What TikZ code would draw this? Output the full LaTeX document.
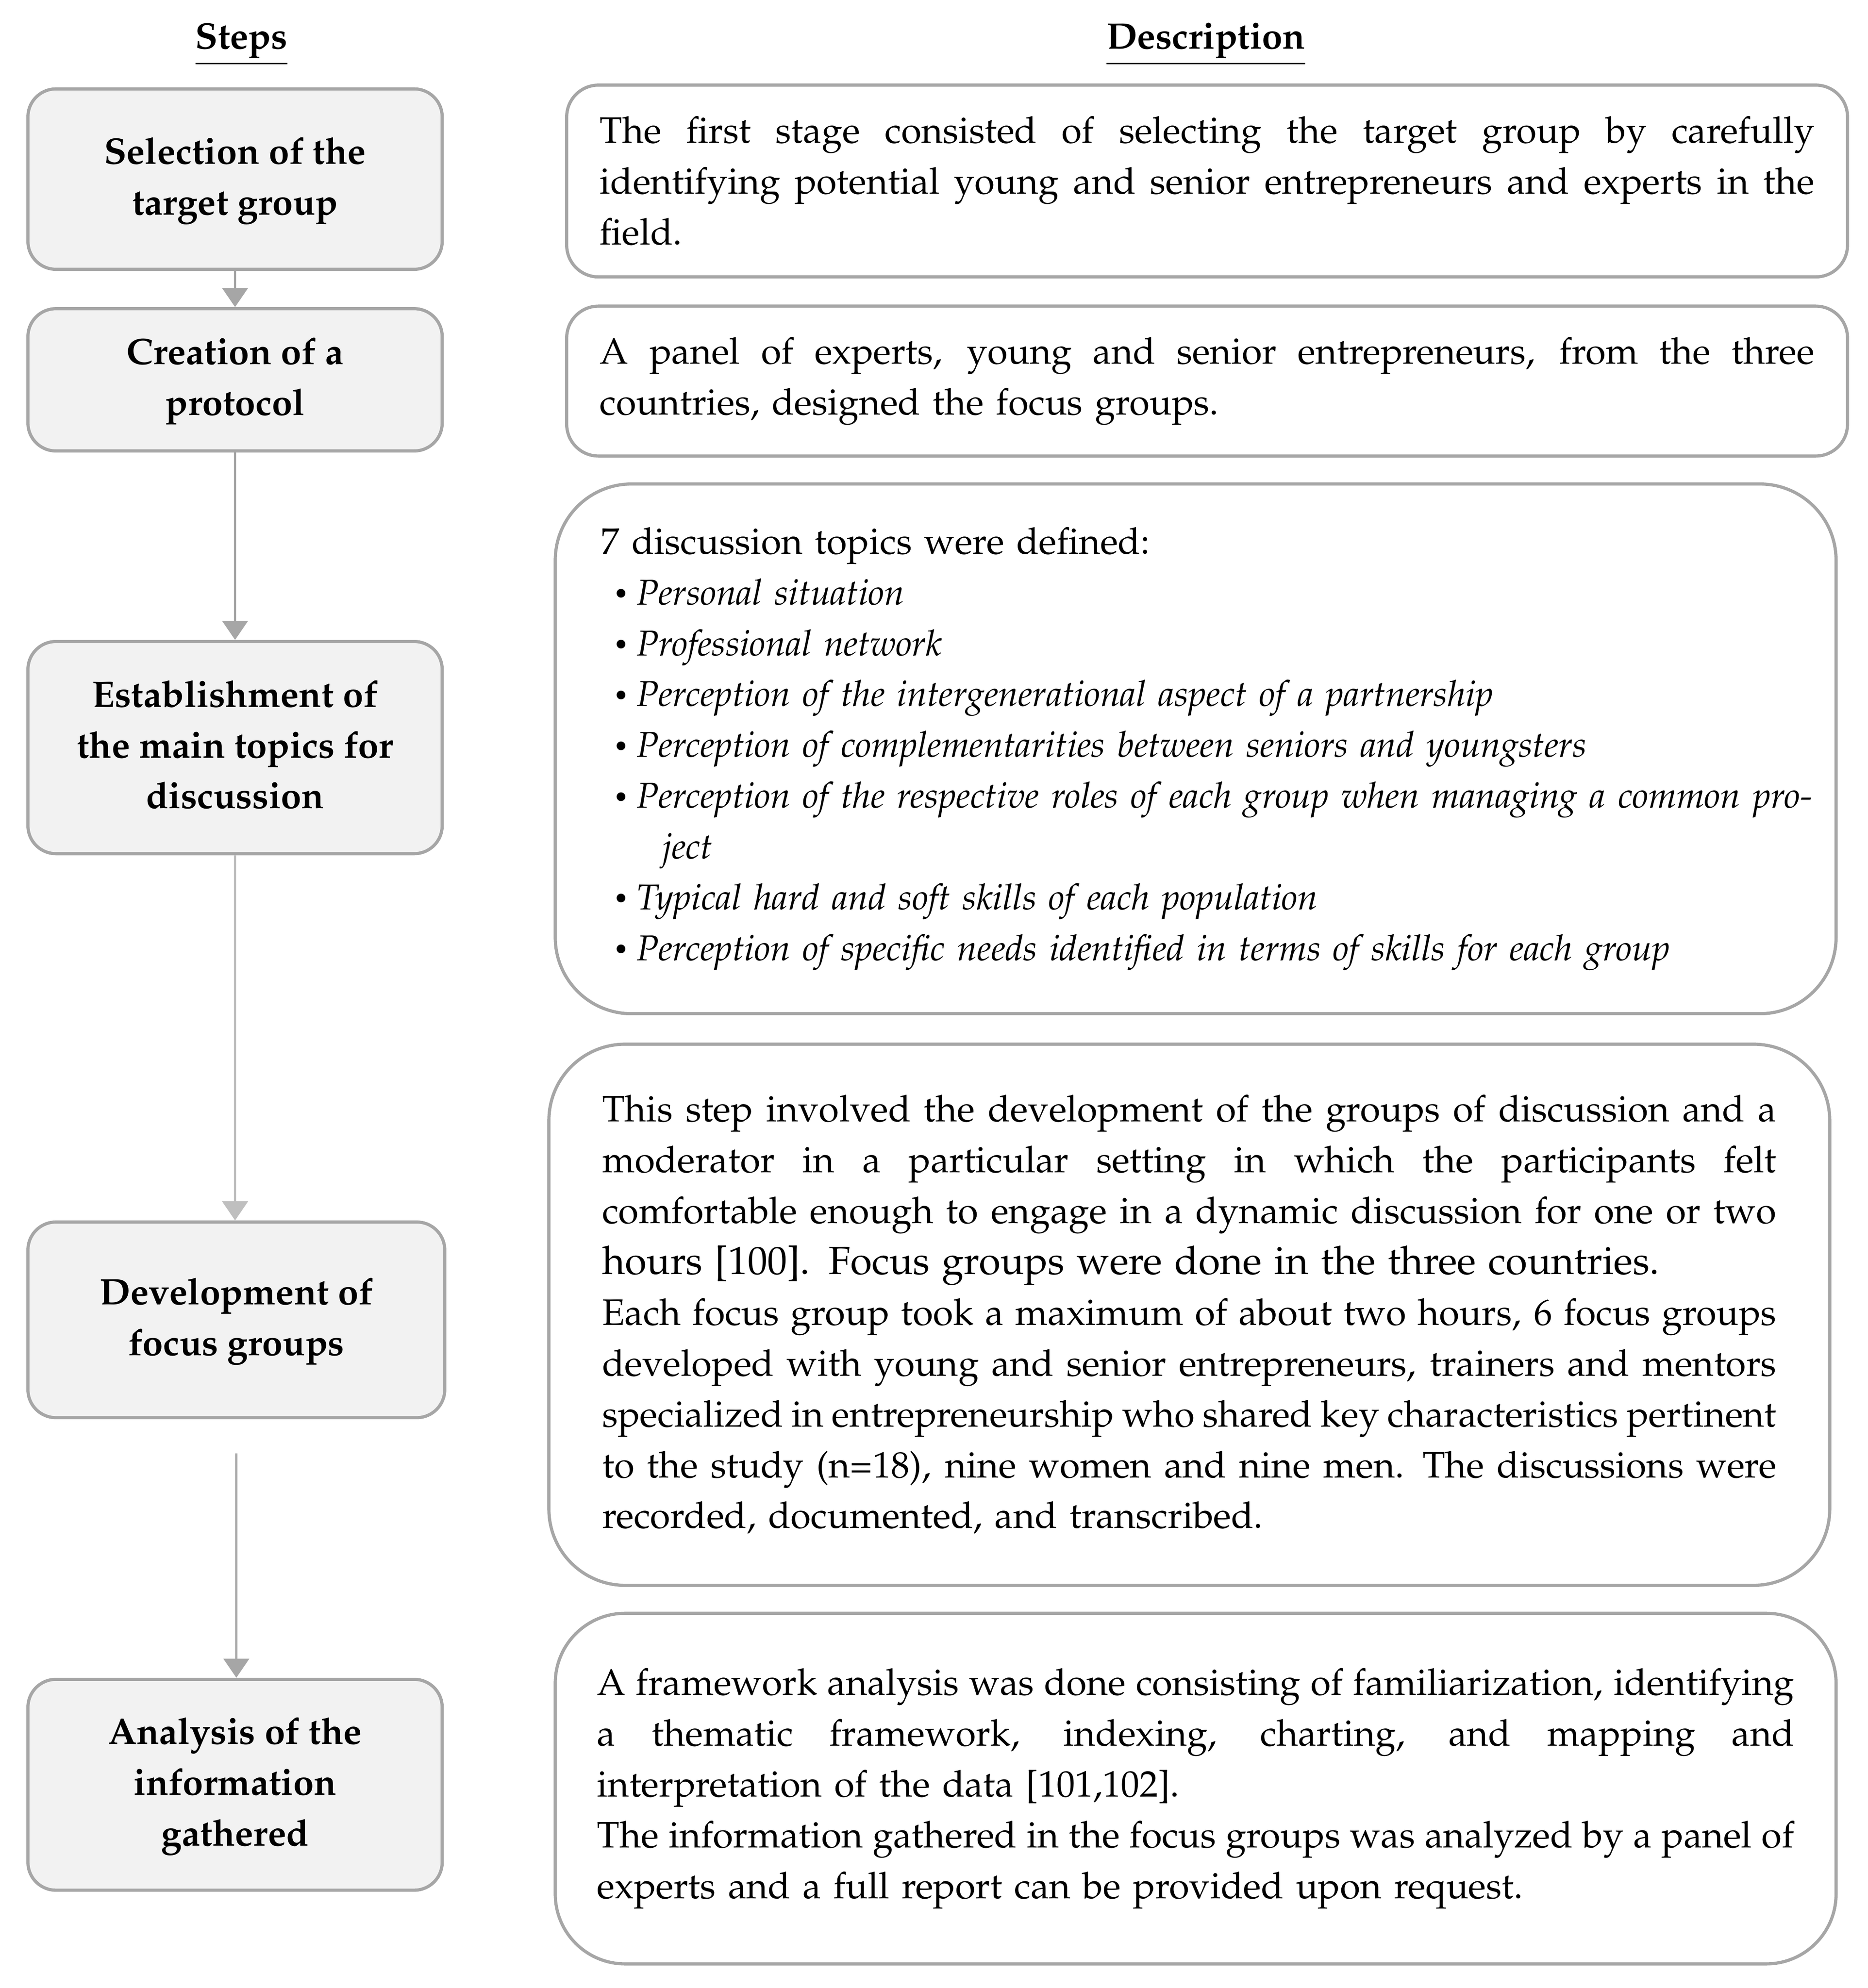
\documentclass[tikz,border=0pt]{standalone}
\usepackage[T1]{fontenc}
\usepackage{mathpazo}
\usetikzlibrary{arrows.meta}
\definecolor{bordergray}{HTML}{A6A6A6}
\definecolor{fillgray}{HTML}{F2F2F2}
\definecolor{arrowgray}{HTML}{A6A6A6}
\definecolor{arrowlight}{HTML}{BFBFBF}
\newcommand\JL[2]{{\spaceskip=0.2em plus 3em minus 0.05em\makebox[#1][s]{#2}}}
\newcommand\BL[1]{\mbox{\hspace*{10pt}\makebox[18pt][l]{\raisebox{2pt}{\fontsize{20}{20}\selectfont\textbullet}}{\fontsize{28.3}{40}\selectfont\itshape #1}}}
\begin{document}
\begin{tikzpicture}[x=1pt,y=-1pt,
  stepbox/.style={draw=bordergray, line width=2.5pt, fill=fillgray, rounded corners=22pt,
    minimum width=326pt, inner sep=0pt, align=center,
    font=\fontsize{29}{40}\selectfont\bfseries},
  descbox/.style={draw=bordergray, line width=2.5pt, fill=white,
    minimum width=1008pt, inner sep=0pt, align=left,
    font=\fontsize{29}{40}\selectfont},
  header/.style={font=\fontsize{29}{40}\selectfont\bfseries, inner sep=0pt},
  flow/.style={draw=arrowgray, line width=2pt, -{Triangle[width=20pt,length=15pt]}}
]
\useasboundingbox (0,0) rectangle (1470,1565);

% headers
\node[header] (hsteps) at (190,35) {\underline{Steps}};
\node[header] (hdesc) at (949,35) {\underline{Description}};

% step boxes
\node[stepbox, minimum height=142pt] (b1) at (185,141) {\strut Selection of the\\target group\strut};
\node[stepbox, minimum height=112pt] (b2) at (185,299) {\strut Creation of a\\protocol\strut};
\node[stepbox, minimum height=167pt] (b3) at (185,588.5) {\strut Establishment of\\the main topics for\\discussion\strut};
\node[stepbox, minimum height=154pt, minimum width=328pt] (b4) at (186,1039) {\strut Development of\\focus groups\strut};
\node[stepbox, minimum height=166pt] (b5) at (185,1405) {\strut Analysis of the\\information\\gathered\strut};

% connectors
\coordinate (c4) at ([yshift=-27pt]b4.south);
\draw[flow] (b1.south) -- (b1.south |- b2.north);
\draw[flow] (b2.south) -- (b2.south |- b3.north);
\draw[flow, draw=arrowlight] (b3.south) -- (b3.south |- b4.north);
\draw[flow] (c4) -- (c4 |- b5.north);

% description boxes
\node[descbox, rounded corners=25pt, minimum height=151pt, text width=956pt] (d1) at (950,142.5)
 {\JL{956pt}{The first stage consisted of selecting the target group by carefully}\\
  \JL{956pt}{identifying potential young and senior entrepreneurs and experts in the}\\
  field.};

\node[descbox, rounded corners=25pt, minimum height=118pt, text width=956pt] (d2) at (950,300)
 {\JL{956pt}{A panel of experts, young and senior entrepreneurs, from the three}\\
  countries, designed the focus groups.};

\node[descbox, rounded corners=60pt, minimum height=417pt, text width=936pt] (d3) at (941,589.5)
 {7 discussion topics were defined:\\
  \BL{Personal situation}\\
  \BL{Professional network}\\
  \BL{Perception of the intergenerational aspect of a partnership}\\
  \BL{Perception of complementarities between seniors and youngsters}\\
  \BL{Perception of the respective roles of each group when managing a common pro-}\\
  \hspace*{48pt}{\fontsize{28.3}{40}\selectfont\itshape ject}\\
  \BL{Typical hard and soft skills of each population}\\
  \BL{Perception of specific needs identified in terms of skills for each group}};

\node[descbox, rounded corners=60pt, minimum height=426pt, text width=924pt] (d4) at (936,1035)
 {\JL{924pt}{This step involved the development of the groups of discussion and a}\\
  \JL{924pt}{moderator in a particular setting in which the participants felt}\\
  \JL{924pt}{comfortable enough to engage in a dynamic discussion for one or two}\\
  {\fontsize{31}{40}\selectfont hours [100]. Focus groups were done in the three countries.}\\
  \JL{924pt}{Each focus group took a maximum of about two hours, 6 focus groups}\\
  \JL{924pt}{developed with young and senior entrepreneurs, trainers and mentors}\\
  \JL{924pt}{specialized in entrepreneurship who shared key characteristics pertinent}\\
  \JL{924pt}{to the study (n=18), nine women and nine men. The discussions were}\\
  recorded, documented, and transcribed.};

\node[descbox, rounded corners=55pt, minimum height=276pt, text width=942pt] (d5) at (941,1408)
 {\JL{942pt}{A framework analysis was done consisting of familiarization, identifying}\\
  \JL{942pt}{a thematic framework, indexing, charting, and mapping and}\\
  interpretation of the data [101,102].\\
  \JL{942pt}{The information gathered in the focus groups was analyzed by a panel of}\\
  experts and a full report can be provided upon request.};
\end{tikzpicture}
\end{document}
